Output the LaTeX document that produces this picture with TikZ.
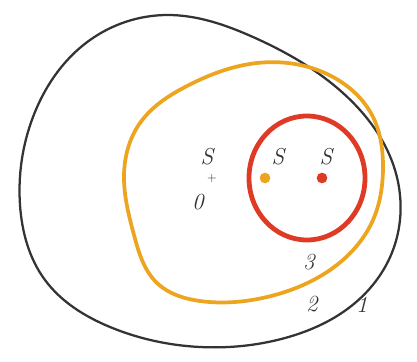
\documentclass[tikz,border=0pt]{standalone}
\usepackage{tikz}
\usetikzlibrary{positioning,hobby}
\definecolor{ink}{HTML}{333333}
\definecolor{ochre}{HTML}{EDA520}
\definecolor{crimson}{HTML}{DE3A26}

\begin{document}
\begin{tikzpicture}[x=0.75pt, y=-0.75pt,
  rim/.style={line width=1.7pt, line join=round, use Hobby shortcut, closed=true},
  lbl/.style={font=\LARGE\itshape, text=ink, inner sep=1pt},
  spot/.style={circle, inner sep=0pt, minimum size=8pt},
]
  \useasboundingbox (0,0) rectangle (417,361);

  \draw[rim, ink] (167,15) .. (253,37) .. (343,93) .. (395,170) .. (393,250)
    .. (355,303) .. (285,338) .. (200,347) .. (110,327) .. (45,280) .. (20,205)
    .. (33,117) .. (90,40);
  \draw[rim, ochre, line width=2.8pt] (257,63) .. (333,77) .. (373,117)
    .. (383,167) .. (373,220) .. (330,270) .. (267,297) .. (200,301)
    .. (157,283) .. (134,235) .. (124,175) .. (140,123) .. (187,86);
  \draw[crimson, line width=3.6pt] (307,178) ellipse [x radius=58, y radius=62];

  \node[lbl] (s0) at (207,157) {S};
  \node[lbl, font=\small] (o) at (212,178) {+};
  \node[lbl] (z) at (198,202) {0};
  \node[spot, fill=ochre] (p2) at (265,178) {};
  \node[lbl] (s2) at (278,157) {S};
  \node[spot, fill=crimson] (p3) at (322,178) {};
  \node[lbl] (s3) at (326,157) {S};
  \node[lbl] (n3) at (309,262) {3};
  \node[lbl] (n2) at (312,304) {2};
  \node[lbl] (n1) at (362,305) {1};
\end{tikzpicture}
\end{document}
